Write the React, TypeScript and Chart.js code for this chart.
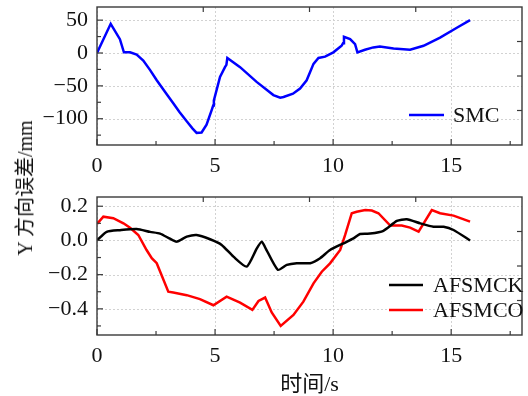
import React, { useEffect, useRef } from 'react';
import { Chart, registerables } from 'chart.js';

Chart.register(...registerables);

// ---------- data ----------
const smcTime = [0, 0.58, 0.97, 1.14, 1.4, 1.68, 1.96, 2.25, 2.53, 2.9, 3.23, 3.5, 3.8, 4.05, 4.22, 4.43, 4.64, 4.86, 4.92, 4.95, 5.21, 5.42, 5.48, 5.52, 6.06, 6.76, 7.47, 7.76, 7.9, 8.3, 8.6, 8.88, 9.17, 9.38, 9.66, 10.01, 10.36, 10.42, 10.46, 10.72, 10.93, 11.03, 11.35, 11.7, 11.98, 12.56, 13.26, 13.83, 14.53, 15.24, 15.8];
const smcValues = [0, 44.4, 21, 1, 1, -2.5, -11.5, -26, -41.5, -60, -76.5, -90, -104, -115, -121.5, -121, -109, -86.5, -80, -72, -36.5, -21.5, -18, -7.5, -21.5, -44, -64, -68, -67, -62, -54, -41.5, -16.5, -7.5, -5.5, 1, 11, 15, 24.5, 21, 13.5, 1, 5, 8.5, 10, 7, 5, 11, 23.4, 38.4, 50];

const afsmckTime = [0, 0.41, 0.97, 1.68, 2.25, 2.67, 3.09, 3.37, 3.8, 4.22, 4.79, 5.28, 5.78, 6.34, 6.77, 6.98, 7.12, 7.66, 8.04, 8.46, 9.03, 9.45, 9.87, 10.44, 10.86, 11.14, 11.57, 12.13, 12.7, 13.12, 13.69, 14.25, 14.68, 15.1, 15.8];
const afsmckValues = [0, 0.05, 0.06, 0.067, 0.05, 0.04, 0.01, -0.007, 0.022, 0.032, 0.007, -0.026, -0.095, -0.153, -0.046, -0.007, -0.04, -0.172, -0.143, -0.133, -0.133, -0.104, -0.056, -0.017, 0.012, 0.038, 0.04, 0.056, 0.114, 0.124, 0.1, 0.08, 0.08, 0.061, 0.0];

const afsmcoTime = [0, 0.27, 0.69, 1.12, 1.4, 1.75, 2.1, 2.32, 2.53, 3.02, 3.23, 3.8, 4.36, 4.93, 5.49, 6.06, 6.58, 6.84, 7.12, 7.4, 7.78, 8.32, 8.74, 9.17, 9.52, 9.87, 10.3, 10.51, 10.79, 11.0, 11.36, 11.64, 11.92, 12.42, 12.91, 13.26, 13.62, 14.18, 14.53, 15.1, 15.8];
const afsmcoValues = [0.096, 0.139, 0.13, 0.1, 0.074, 0.032, -0.056, -0.104, -0.133, -0.3, -0.305, -0.32, -0.343, -0.379, -0.329, -0.364, -0.406, -0.354, -0.334, -0.421, -0.5, -0.436, -0.358, -0.251, -0.183, -0.134, -0.056, 0.032, 0.159, 0.168, 0.178, 0.175, 0.159, 0.087, 0.087, 0.075, 0.051, 0.178, 0.159, 0.145, 0.11];

const xTickLabels = ['0', '5', '10', '15'];
const topYTickLabels = [50, 0, -50, -100];
const bottomYTickLabels = [0.2, 0.0, -0.2, -0.4];

const seriesNames = { smc: 'SMC', k: 'AFSMCK', o: 'AFSMCO' };
const xTitle = '时间/s';
const yTitle = 'Y 方向误差/mm';

// ---------- styling ----------
const FONT = '"Liberation Serif", "Times New Roman", "Noto Sans CJK SC", serif';
const TICK_FONT = { family: FONT, size: 22 };

const fmt = (v: number, dec: number) => {
  const s = Math.abs(v).toFixed(dec);
  return v < -1e-9 ? '\u2212' + s : s;
};

const pairs = (xs: number[], ys: number[]) => xs.map((x, i) => ({ x, y: ys[i] }));

const frameTicksPlugin = {
  id: 'frameTicks',
  beforeDatasetsDraw(chart: any) {
    const { ctx, chartArea: a, scales } = chart;
    ctx.save();
    ctx.strokeStyle = '#d2d2d2';
    ctx.lineWidth = 1;
    ctx.setLineDash([2, 2]);
    scales.x.ticks.forEach((t: any) => {
      if (t.label === '') return;
      const px = Math.round(scales.x.getPixelForValue(t.value)) + 0.5;
      ctx.beginPath(); ctx.moveTo(px, a.top); ctx.lineTo(px, a.bottom); ctx.stroke();
    });
    scales.y.ticks.forEach((t: any) => {
      if (t.label === '') return;
      const py = Math.round(scales.y.getPixelForValue(t.value)) + 0.5;
      ctx.beginPath(); ctx.moveTo(a.left, py); ctx.lineTo(a.right, py); ctx.stroke();
    });
    ctx.restore();
  },
  afterDatasetsDraw(chart: any) {
    const { ctx, chartArea: a, scales } = chart;
    ctx.save();
    ctx.strokeStyle = '#3a3a3a';
    ctx.lineWidth = 1.4;
    ctx.setLineDash([]);
    ctx.strokeRect(a.left, a.top, a.right - a.left, a.bottom - a.top);
    ctx.lineWidth = 1.2;
    scales.x.ticks.forEach((t: any) => {
      const px = scales.x.getPixelForValue(t.value);
      const len = t.label === '' ? 4 : 6;
      ctx.beginPath(); ctx.moveTo(px, a.bottom); ctx.lineTo(px, a.bottom - len); ctx.stroke();
    });
    scales.y.ticks.forEach((t: any) => {
      const py = scales.y.getPixelForValue(t.value);
      const len = t.label === '' ? 4 : 6;
      ctx.beginPath(); ctx.moveTo(a.left, py); ctx.lineTo(a.left + len, py); ctx.stroke();
    });
    // quarter ticks on top and right edges
    for (let i = 1; i < 4; i++) {
      const px = a.left + ((a.right - a.left) * i) / 4;
      ctx.beginPath(); ctx.moveTo(px, a.top); ctx.lineTo(px, a.top + 5); ctx.stroke();
      const py = a.top + ((a.bottom - a.top) * i) / 4;
      ctx.beginPath(); ctx.moveTo(a.right, py); ctx.lineTo(a.right - 5, py); ctx.stroke();
    }
    ctx.restore();
  },
  afterDraw(chart: any) {
    const opts = chart.options.plugins.frameLegend;
    if (!opts) return;
    const { ctx, chartArea: a } = chart;
    ctx.save();
    ctx.font = `22px ${FONT}`;
    ctx.textBaseline = 'middle';
    ctx.textAlign = 'left';
    chart.data.datasets.forEach((ds: any, i: number) => {
      const y = a.bottom - opts.rows[i];
      ctx.strokeStyle = ds.borderColor;
      ctx.lineWidth = 2.5;
      ctx.beginPath();
      ctx.moveTo(a.right - opts.lineStart, y);
      ctx.lineTo(a.right - opts.lineEnd, y);
      ctx.stroke();
      ctx.fillStyle = '#111';
      ctx.fillText(ds.label, a.right - opts.textStart, y + 1);
    });
    ctx.restore();
  },
};

function makeOptions(cfg: any) {
  return {
    responsive: false,
    animation: false,
    layout: { padding: cfg.padding },
    plugins: { legend: { display: false }, tooltip: { enabled: false }, frameLegend: cfg.legend },
    scales: {
      x: {
        type: 'linear',
        min: 0,
        max: 18,
        grid: { display: false, drawTicks: false },
        border: { display: false },
        ticks: {
          stepSize: 2.5,
          includeBounds: false,
          autoSkip: false,
          maxRotation: 0,
          padding: 8,
          color: '#111',
          font: TICK_FONT,
          callback: (v: number) => (xTickLabels.includes(String(v)) ? String(v) : ''),
        },
        title: cfg.xTitle
          ? { display: true, text: cfg.xTitle, color: '#111', font: { family: FONT, size: 22, lineHeight: 1.0 }, padding: 0 }
          : { display: false },
        afterFit: (s: any) => {
          s.height = cfg.xHeight;
          s.paddingLeft = 0;
          s.paddingRight = 0;
        },
      },
      y: {
        type: 'linear',
        min: cfg.yMin,
        max: cfg.yMax,
        grid: { display: false, drawTicks: false },
        border: { display: false },
        ticks: {
          stepSize: cfg.yStep,
          includeBounds: false,
          autoSkip: false,
          padding: 9,
          color: '#111',
          font: TICK_FONT,
          callback: cfg.yCallback,
        },
        afterFit: (s: any) => {
          s.width = 97;
          s.paddingTop = 0;
          s.paddingBottom = 0;
        },
      },
    },
  };
}

function TopChart() {
  const ref = useRef<HTMLCanvasElement>(null);
  useEffect(() => {
    const chart = new Chart(ref.current as HTMLCanvasElement, {
      type: 'line',
      data: {
        datasets: [
          { label: seriesNames.smc, data: pairs(smcTime, smcValues), borderColor: '#0000ff', borderWidth: 2.5, pointRadius: 0, tension: 0, fill: false },
        ],
      },
      options: makeOptions({
        padding: { top: 7, right: 6, left: 0, bottom: 0 },
        xHeight: 30,
        yMin: -140,
        yMax: 70,
        yStep: 25,
        yCallback: (v: number) => (topYTickLabels.includes(v) ? fmt(v, 0) : ''),
        legend: { rows: [30], lineStart: 113, lineEnd: 78, textStart: 69 },
      }) as any,
      plugins: [frameTicksPlugin],
    });
    return () => chart.destroy();
  }, []);
  return <canvas ref={ref} width={528} height={175} style={{ display: 'block' }} />;
}

function BottomChart() {
  const ref = useRef<HTMLCanvasElement>(null);
  useEffect(() => {
    const chart = new Chart(ref.current as HTMLCanvasElement, {
      type: 'line',
      data: {
        datasets: [
          { label: seriesNames.k, data: pairs(afsmckTime, afsmckValues), borderColor: '#000000', borderWidth: 2.5, pointRadius: 0, tension: 0.2, fill: false },
          { label: seriesNames.o, data: pairs(afsmcoTime, afsmcoValues), borderColor: '#ff0000', borderWidth: 2.5, pointRadius: 0, tension: 0, fill: false },
        ],
      },
      options: makeOptions({
        padding: { top: 17, right: 6, left: 0, bottom: 0 },
        xHeight: 61,
        xTitle,
        yMin: -0.553,
        yMax: 0.254,
        yStep: 0.1,
        yCallback: (v: number) => {
          const r = Math.round(v * 10);
          return bottomYTickLabels.some((b) => Math.round(b * 10) === r) ? fmt(r / 10, 1) : '';
        },
        legend: { rows: [50, 25], lineStart: 133, lineEnd: 99, textStart: 89 },
      }) as any,
      plugins: [frameTicksPlugin],
    });
    return () => chart.destroy();
  }, []);
  return <canvas ref={ref} width={528} height={216} style={{ display: 'block' }} />;
}

export default function App() {
  return (
    <div style={{ position: 'fixed', left: 0, top: 0, width: 528, height: 396, background: '#fff', overflow: 'hidden' }}>
      <div style={{ position: 'absolute', left: 0, top: 0 }}>
        <TopChart />
      </div>
      <div style={{ position: 'absolute', left: 0, top: 180 }}>
        <BottomChart />
      </div>
      <div
        style={{
          position: 'absolute',
          left: 25,
          top: 188,
          transform: 'translate(-50%, -50%) rotate(-90deg)',
          whiteSpace: 'nowrap',
          fontFamily: FONT,
          fontSize: 20,
          color: '#111',
          lineHeight: 1,
        }}
      >
        {yTitle}
      </div>
    </div>
  );
}
